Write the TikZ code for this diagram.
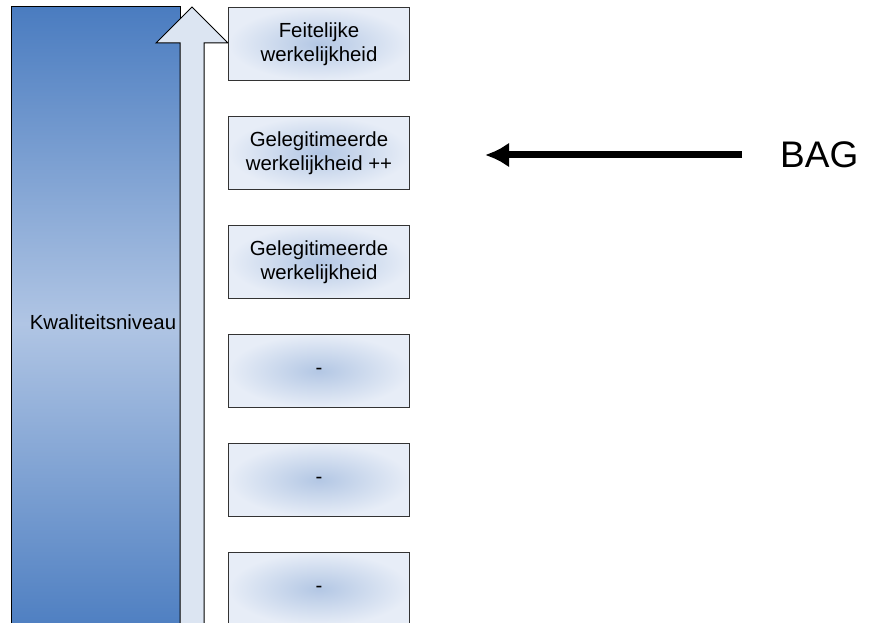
\documentclass[tikz,border=0pt]{standalone}
\usepackage{fontspec}
\setmainfont{Liberation Sans}
\usetikzlibrary{arrows.meta}
\definecolor{levelblue}{HTML}{4A7CC0}
\definecolor{levellight}{HTML}{B0C5E4}
\definecolor{boxouter}{HTML}{E7EDF7}
\definecolor{boxinner}{HTML}{B3C7E4}
\definecolor{shaftfill}{HTML}{DCE5F2}
\tikzset{
  levelbox/.style={draw=black!80, line width=1pt, inner color=boxinner, outer color=boxouter,
    minimum width=181pt, minimum height=73pt, inner sep=0pt, align=center,
    font=\fontsize{20.4}{24}\selectfont},
}
\begin{document}
\begin{tikzpicture}[x=1pt,y=-1pt]
  \useasboundingbox (0,0) rectangle (870,623);
  \clip (0,0) rectangle (870,623);
  % quality bar
  \draw[line width=1pt, top color=levelblue, bottom color=levelblue, middle color=levellight]
    (11,7) rectangle (180,640);
  \node[font=\fontsize{20.4}{24}\selectfont] (level) at (103,322) {Kwaliteitsniveau};
  % upward arrow
  \draw[line width=1pt, fill=shaftfill]
    (180,640) -- (180,43) -- (156,43) -- (192,7) -- (228,43) -- (204,43) -- (204,640);
  % levels
  \node[levelbox, anchor=north west] (feit) at (228,7) {Feitelijke\\werkelijkheid};
  \node[levelbox, anchor=north west] (legplus) at (228,116) {Gelegitimeerde\\werkelijkheid ++};
  \node[levelbox, anchor=north west] (leg) at (228,225) {Gelegitimeerde\\werkelijkheid};
  \node[levelbox, anchor=north west] (lvlfour) at (228,334) {-};
  \node[levelbox, anchor=north west] (lvlfive) at (228,443) {-};
  \node[levelbox, anchor=north west] (lvlsix) at (228,552) {-};
  % BAG
  \node[font=\fontsize{37}{40}\selectfont, anchor=west, inner sep=0pt] (bag) at (780,155) {BAG};
  \coordinate (bagtail) at (742,155);
  \coordinate (baghead) at (485,155);
  \draw[line width=7pt, -{Latex[length=24pt,width=25pt]}] (bagtail) -- (baghead);
\end{tikzpicture}
\end{document}
